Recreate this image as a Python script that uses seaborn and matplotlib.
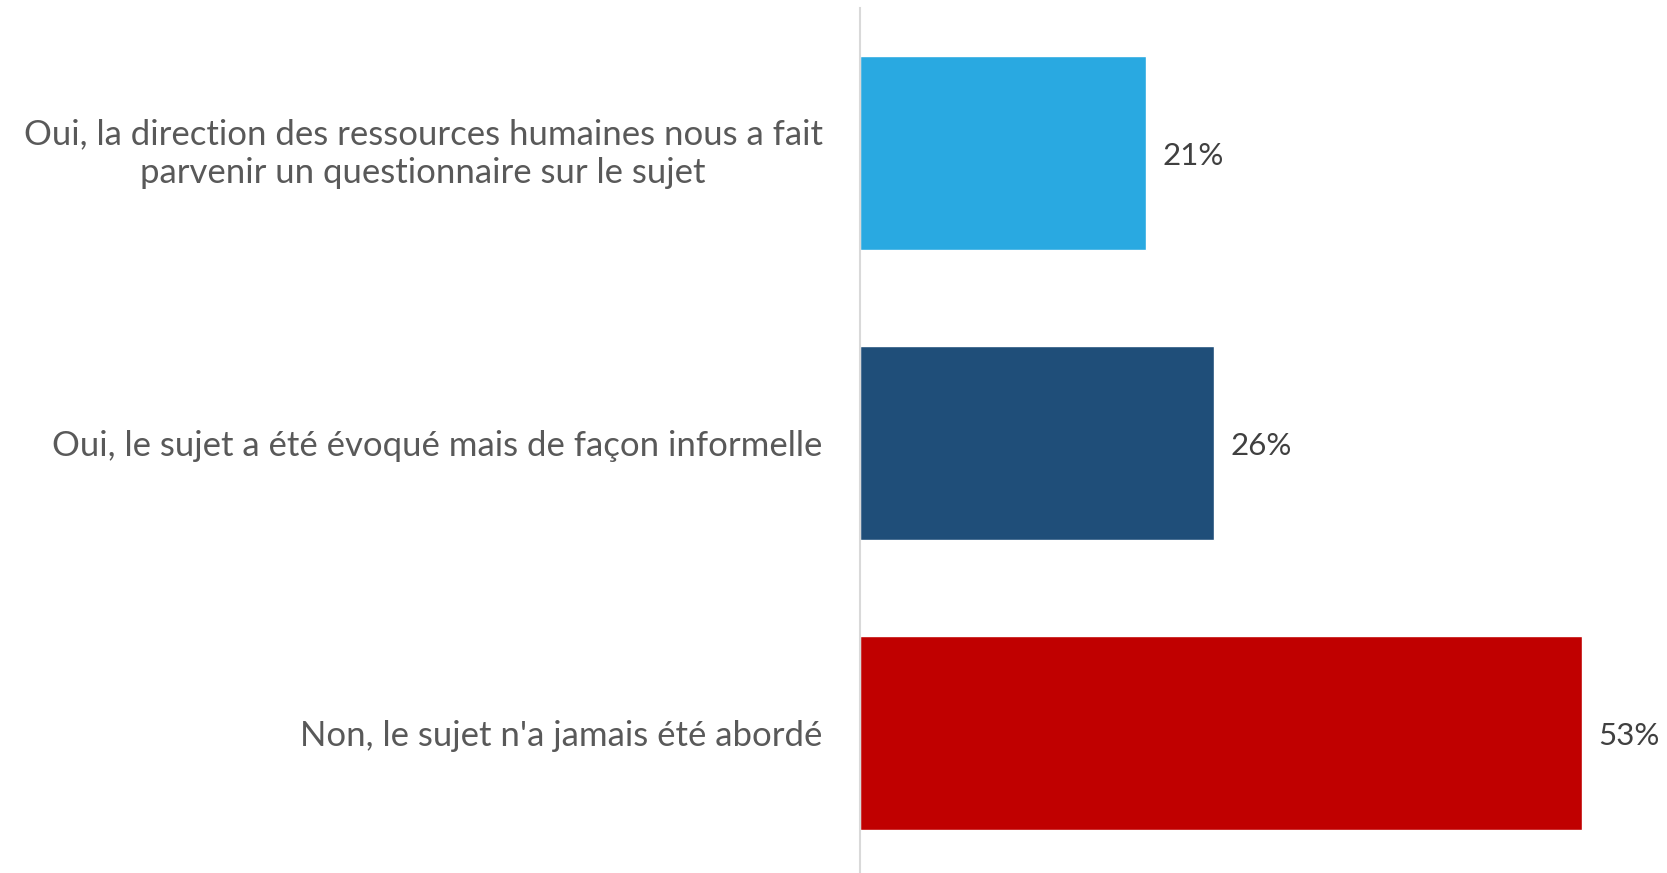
import matplotlib
matplotlib.use("Agg")
import matplotlib.pyplot as plt
import matplotlib.transforms as mtransforms
import seaborn as sns
import pandas as pd

categories = [
    "Oui, la direction des ressources humaines nous a fait\nparvenir un questionnaire sur le sujet",
    "Oui, le sujet a été évoqué mais de façon informelle",
    "Non, le sujet n'a jamais été abordé",
]
values = [21, 26, 53]
bar_colors = ["#29a9e1", "#1f4e79", "#c00000"]

df = pd.DataFrame({"cat": categories, "val": values})

sns.set_theme(style="white")
plt.rcParams['font.family'] = ['Lato', 'DejaVu Sans']

fig = plt.figure(figsize=(16.67, 8.73), dpi=100)
ax = fig.add_axes([0.516, -0.0057, 0.484, 0.9965])

sns.barplot(data=df, x="val", y="cat", hue="cat", palette=bar_colors,
            width=0.667, legend=False, ax=ax, saturation=1)

for p, v in zip(ax.patches, values):
    ax.text(p.get_width() + 1.2, p.get_y() + p.get_height() / 2 + 0.01, "%d%%" % v,
            va="center", ha="left", fontsize=22.5, color="#404040")

ax.set_xlim(0, 59.25)
ax.set_ylim(2.5, -0.5)
ax.set_xlabel("")
ax.set_ylabel("")
ax.set_xticks([])
ax.tick_params(axis="y", length=0, pad=27, labelsize=25, labelcolor="#595959")
for lab in ax.get_yticklabels():
    lab.set_multialignment("center")
    lab.set_linespacing(1.25)
# nudge the two-line label up a little
first = ax.get_yticklabels()[0]
first.set_transform(first.get_transform() +
                    mtransforms.ScaledTranslation(0, 4 / 72, fig.dpi_scale_trans))
for s in ["top", "right", "bottom"]:
    ax.spines[s].set_visible(False)
ax.spines["left"].set_color("#d9d9d9")
ax.spines["left"].set_linewidth(1.5)

fig.savefig("out.png", dpi=100)
